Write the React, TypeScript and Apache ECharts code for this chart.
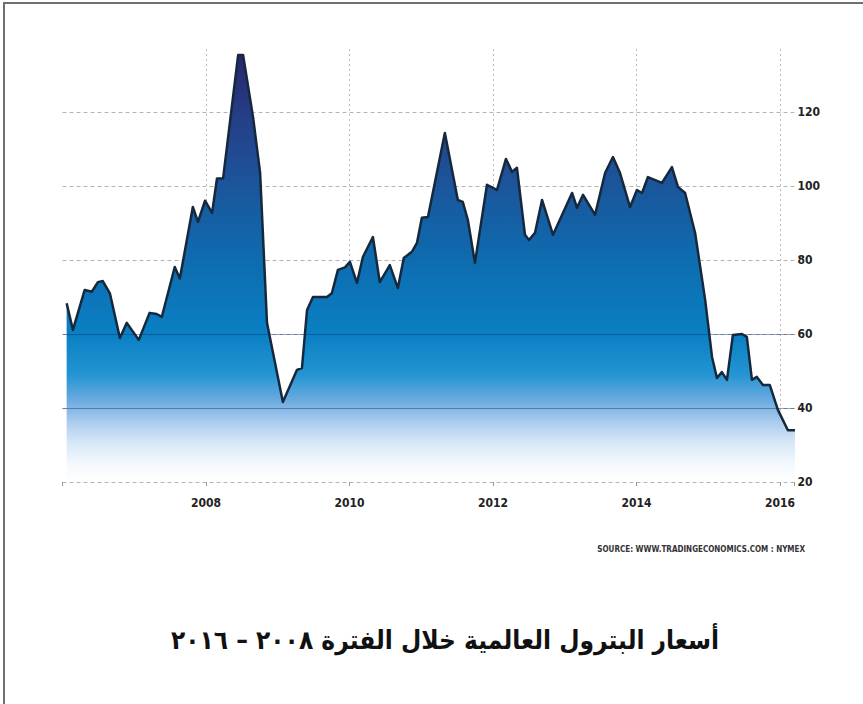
import React, { useEffect, useRef } from "react";
import * as echarts from "echarts";

// Sample dates (turning points of the monthly series) and NYMEX crude prices, USD/bbl
const dates = [
  "2006-01-22", "2006-02-23", "2006-04-24", "2006-05-30", "2006-06-30", "2006-07-25",
  "2006-08-30", "2006-10-20", "2006-11-24", "2007-01-24", "2007-03-20", "2007-04-25",
  "2007-05-21", "2007-07-26", "2007-08-21", "2007-10-26", "2007-11-21", "2007-12-27",
  "2008-02-01", "2008-02-26", "2008-03-28", "2008-06-13", "2008-07-08", "2008-08-28",
  "2008-10-03", "2008-11-07", "2009-01-27", "2009-04-09", "2009-05-04", "2009-05-30",
  "2009-06-29", "2009-09-08", "2009-10-03", "2009-11-03", "2009-12-09", "2010-01-03",
  "2010-02-08", "2010-03-10", "2010-04-30", "2010-06-04", "2010-07-25", "2010-09-04",
  "2010-10-04", "2010-11-14", "2010-12-10", "2011-01-04", "2011-02-04", "2011-05-01",
  "2011-07-06", "2011-07-31", "2011-08-26", "2011-10-01", "2011-12-01", "2012-01-01",
  "2012-01-21", "2012-03-07", "2012-04-07", "2012-05-02", "2012-06-12", "2012-07-02",
  "2012-08-02", "2012-09-07", "2012-11-02", "2013-02-07", "2013-03-04", "2013-04-04",
  "2013-06-04", "2013-07-25", "2013-09-03", "2013-10-09", "2013-11-29", "2014-01-03",
  "2014-01-29", "2014-02-28", "2014-05-10", "2014-06-30", "2014-07-31", "2014-09-05",
  "2014-10-26", "2014-12-16", "2015-01-20", "2015-02-14", "2015-03-11", "2015-04-06",
  "2015-05-06", "2015-06-21", "2015-07-16", "2015-08-11", "2015-09-05", "2015-10-06",
  "2015-11-10", "2015-12-21", "2016-02-10", "2016-03-17",
];

const prices = [
  68.3, 61.1, 71.9, 71.4, 74.0, 74.3,
  71.0, 58.9, 63.0, 58.4, 65.7, 65.4,
  64.6, 78.1, 75.0, 94.3, 90.3, 96.0,
  92.7, 102.0, 102.0, 135.4, 135.4, 118.6,
  103.5, 63.0, 41.6, 50.3, 50.8, 66.5,
  70.0, 70.0, 71.0, 77.3, 78.0, 79.5,
  73.8, 80.8, 86.2, 74.0, 78.6, 72.4,
  80.5, 82.2, 84.6, 91.4, 91.6, 114.3,
  96.2, 95.7, 90.8, 79.2, 100.3, 99.5,
  98.9, 107.3, 103.8, 104.9, 86.8, 85.4,
  87.3, 96.2, 86.8, 98.1, 94.1, 97.6,
  92.2, 103.5, 107.8, 103.5, 94.3, 98.9,
  98.1, 102.4, 100.8, 105.1, 99.7, 98.1,
  87.3, 69.2, 53.8, 48.1, 49.7, 47.6,
  59.7, 60.0, 59.2, 47.6, 48.4, 46.2,
  46.2, 39.5, 34.0, 34.0,
];

const yearTicks = [2008, 2010, 2012, 2014, 2016];
const priceTicks = [20, 40, 60, 80, 100, 120];
const emphasisLevels = [40, 60];

const titleText = "أسعار البترول العالمية خلال الفترة ٢٠٠٨ – ٢٠١٦";
const sourceText = "SOURCE: WWW.TRADINGECONOMICS.COM : NYMEX";

const NARROW = '"Liberation Sans Narrow", "DejaVu Sans Condensed", "Arial Narrow", sans-serif';

function toDecimalYear(d: string): number {
  const [y, m, dd] = d.split("-").map(Number);
  const start = Date.UTC(y, 0, 1);
  const end = Date.UTC(y + 1, 0, 1);
  return y + (Date.UTC(y, m - 1, dd) - start) / (end - start);
}

export default function App() {
  const ref = useRef<HTMLDivElement>(null);

  useEffect(() => {
    if (!ref.current) return;
    const chart = echarts.init(ref.current, null, { renderer: "svg" });

    const seriesData = dates.map((d, i) => [toDecimalYear(d), prices[i]]);

    const gridTop = 49;
    const gridBottomPx = 482;

    chart.setOption({
      animation: false,
      backgroundColor: "#ffffff",
      grid: { left: 62.5, right: 68.6, top: gridTop, bottom: 704 - gridBottomPx },
      xAxis: {
        type: "value",
        min: 2006,
        max: 2016.2,
        interval: 2,
        axisLine: { show: false },
        axisTick: { show: true, length: 4, lineStyle: { color: "#999" } },
        axisLabel: {
          margin: 15,
          color: "#222",
          fontWeight: "bold",
          fontSize: 12,
          fontFamily: NARROW,
          formatter: (v: number) => (yearTicks.includes(v) ? String(v) : ""),
        },
        splitLine: {
          show: true,
          showMinLine: false,
          showMaxLine: false,
          lineStyle: { color: "#bcbcbc", type: [2, 3], width: 1 },
        },
      },
      yAxis: {
        type: "value",
        position: "right",
        min: 20,
        max: 137,
        interval: 20,
        axisLine: { show: false },
        axisTick: { show: false },
        axisLabel: {
          margin: 3,
          color: "#222",
          fontWeight: "bold",
          fontSize: 12,
          fontFamily: NARROW,
          showMaxLabel: false,
          formatter: (v: number) => (priceTicks.includes(v) ? String(v) : ""),
        },
        splitLine: {
          show: true,
          showMaxLine: false,
          lineStyle: { color: "#b4b4b4", type: [4, 3], width: 1 },
        },
      },
      series: [
        {
          type: "line",
          data: seriesData,
          symbol: "none",
          smooth: false,
          lineStyle: { color: "#16283c", width: 2.5, join: "round" },
          areaStyle: {
            origin: "start",
            opacity: 1,
            color: {
              type: "linear",
              x: 0,
              y: 50,
              x2: 0,
              y2: gridBottomPx,
              global: true,
              colorStops: [
                { offset: 0, color: "#2a2468" },
                { offset: 0.16, color: "#253f88" },
                { offset: 0.31, color: "#1b559b" },
                { offset: 0.49, color: "#0e6cb0" },
                { offset: 0.66, color: "#0a80c4" },
                { offset: 0.75, color: "#2394d2" },
                { offset: 0.81, color: "#6aaae0" },
                { offset: 0.86, color: "#a9cbee" },
                { offset: 0.91, color: "#d8e8f7" },
                { offset: 0.96, color: "#f4f9fe" },
                { offset: 1, color: "#ffffff" },
              ],
            },
          },
          markLine: {
            silent: true,
            symbol: "none",
            label: { show: false },
            lineStyle: { color: "rgba(10,40,90,0.4)", type: "solid", width: 1.2 },
            data: emphasisLevels.map((v) => ({ yAxis: v })),
          },
        },
      ],
      graphic: [
        {
          type: "rect",
          shape: { x: 4, y: 3, width: 900, height: 760 },
          style: { fill: "none", stroke: "#707070", lineWidth: 2 },
          silent: true,
        },
        {
          type: "text",
          x: 805,
          y: 549,
          style: {
            text: sourceText,
            fill: "#333",
            font: `bold 8px ${NARROW}`,
            align: "right",
            verticalAlign: "middle",
          },
        },
        {
          type: "text",
          x: 445,
          y: 640,
          style: {
            text: titleText,
            fill: "#111",
            font: 'bold 26px "DejaVu Sans Condensed", "DejaVu Sans", sans-serif',
            align: "center",
            verticalAlign: "middle",
          },
        },
      ],
    });

    return () => chart.dispose();
  }, []);

  return (
    <div
      ref={ref}
      style={{ position: "fixed", left: 0, top: 0, width: 863, height: 704, background: "#fff" }}
    />
  );
}
